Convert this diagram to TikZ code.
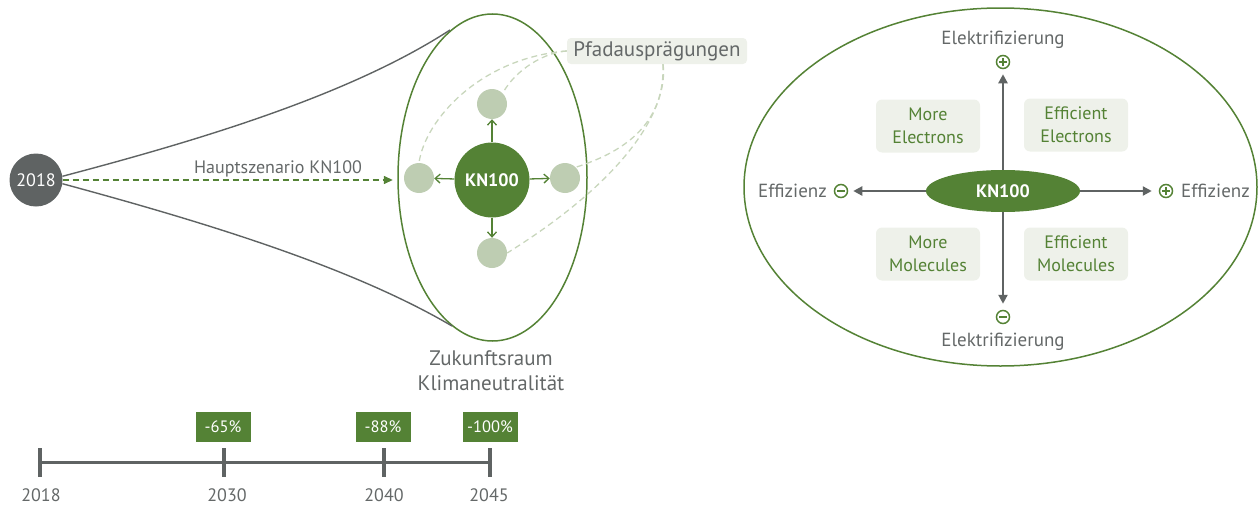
\documentclass[tikz,border=0pt]{standalone}
\usepackage{fontspec}
\setmainfont{PT Sans}
\usetikzlibrary{arrows.meta,shapes.geometric}
\definecolor{kgreen}{RGB}{84,130,53}
\definecolor{kgray}{RGB}{95,99,99}
\definecolor{tgray}{RGB}{100,104,104}
\definecolor{lgreen}{RGB}{190,205,178}
\definecolor{dgreen}{RGB}{200,214,188}
\definecolor{lbox}{RGB}{238,241,234}
\tikzset{
  fs/.style={font=\fontsize{18}{21}\selectfont},
  yearc/.style={circle,fill=kgray,text=white,minimum size=53pt,inner sep=0pt,fs},
  bigc/.style={circle,fill=kgreen,text=white,minimum size=75pt,inner sep=0pt,font=\fontsize{18}{20}\selectfont\bfseries},
  smallc/.style={circle,fill=lgreen,minimum size=30pt,inner sep=0pt},
  garrow/.style={draw=kgreen,line width=1.3pt,-{Straight Barb[length=5pt,width=9pt,line width=1.3pt]}},
  grarrow/.style={draw=kgray,line width=2.4pt,-{Triangle[length=9pt,width=9pt]}},
  pdash/.style={draw=dgreen,line width=1.3pt,dash pattern=on 6pt off 4pt},
  lab/.style={text=tgray,fs,inner sep=1pt},
  labb/.style={text=tgray,font=\fontsize{19}{22}\selectfont,inner sep=1pt},
  quad/.style={fill=lbox,rounded corners=6pt,minimum width=104pt,minimum height=53pt,text=kgreen,align=center,font=\fontsize{18}{23}\selectfont},
  pct/.style={fill=kgreen,text=white,minimum width=55pt,minimum height=30pt,inner sep=0pt,font=\fontsize{16.5}{18}\selectfont},
  pm/.style={circle,draw=kgreen,line width=1.5pt,minimum size=13pt,inner sep=0pt},
  pmline/.style={draw=kgreen,line width=1.5pt},
  tline/.style={draw=kgray,line width=3.5pt}
}
\begin{document}
\begin{tikzpicture}[x=1pt,y=-1pt]
\useasboundingbox (0,0) rectangle (1259,506);
% ---------- left part
\node[draw=kgreen,line width=1.5pt,ellipse,minimum width=189pt,minimum height=327pt,inner sep=0pt] (zr) at (492.5,177.5) {};
\node[yearc] (c2018) at (36,180) {2018};
\coordinate (etop) at (450,30);
\coordinate (ebot) at (452,326);
\draw[kgray,line width=1.4pt] (c2018.8) .. controls (200,140) and (350,95) .. (etop);
\draw[kgray,line width=1.4pt] (c2018.-8) .. controls (200,221) and (350,266) .. (ebot);

\node[bigc] (kn) at (492,180) {KN100};
\node[smallc] (st) at (492,104) {};
\node[smallc] (sl) at (419,178) {};
\node[smallc] (sr) at (565,178) {};
\node[smallc] (sb) at (492,253) {};
\draw[garrow] (kn) -- (st);
\draw[garrow] (kn) -- (sl);
\draw[garrow] (kn) -- (sr);
\draw[garrow] (kn) -- (sb);

\draw[draw=kgreen,line width=1.4pt,dash pattern=on 6pt off 4pt,-{Triangle[length=9pt,width=8pt]},shorten >=11pt] (c2018.east) -- (sl.west |- c2018.east);
\node[lab] (haupt) at (278,169) {Hauptszenario KN100};

\node[fill=lbox,rounded corners=4pt,minimum width=180pt,minimum height=26pt,inner sep=0pt,text=tgray,font=\fontsize{21}{23}\selectfont] (pfad) at (657,51) {Pfadausprägungen};
\draw[pdash] (pfad.west) .. controls (480,58) and (425,120) .. (sl.north);
\draw[pdash] (pfad.west) .. controls (545,52) and (515,70) .. (st.north east);
\draw[pdash] ([xshift=6pt]pfad.south) .. controls (665,120) and (630,150) .. (sr.north east);
\draw[pdash] ([xshift=6pt]pfad.south) .. controls (668,100) and (640,170) .. (sb.east);

\node[text=tgray,align=center,font=\fontsize{21}{25}\selectfont] (zuk) at (491,371) {Zukunftsraum\\Klimaneutralität};

% ---------- timeline
\coordinate (t18) at (40,462);
\coordinate (t30) at (224,462);
\coordinate (t40) at (384,462);
\coordinate (t45) at (490,462);
\draw[draw=kgray,line width=3pt] (t18) -- (t45);
\foreach \t in {t18,t30,t40,t45} \draw[tline] ([yshift=14pt]\t) -- ([yshift=-15pt]\t);
\node[lab] (y18) at (41,495) {2018};
\node[lab] (y30) at (227,495) {2030};
\node[lab] (y40) at (384,495) {2040};
\node[lab] (y45) at (489,495) {2045};
\node[pct] (p65) at (223,427) {-65\%};
\node[pct] (p88) at (383,427) {-88\%};
\node[pct] (p100) at (490,427) {-100\%};

% ---------- right part
\node[draw=kgreen,line width=1.5pt,ellipse,minimum width=513pt,minimum height=358pt,inner sep=0pt] (big) at (1000.5,187) {};
\node[ellipse,fill=kgreen,text=white,minimum width=154pt,minimum height=42pt,inner sep=0pt,font=\fontsize{18}{20}\selectfont\bfseries] (kn2) at (1003,191) {KN100};

\node[pm] (ptop) at (1003,62) {};
\node[pm] (mbot) at (1003,317) {};
\node[pm] (mleft) at (841,191) {};
\node[pm] (pright) at (1166,191) {};
\draw[pmline] ([xshift=-4pt]ptop.center) -- ([xshift=4pt]ptop.center);
\draw[pmline] ([yshift=-4pt]ptop.center) -- ([yshift=4pt]ptop.center);
\draw[pmline] ([xshift=-4pt]pright.center) -- ([xshift=4pt]pright.center);
\draw[pmline] ([yshift=-4pt]pright.center) -- ([yshift=4pt]pright.center);
\draw[pmline] ([xshift=-4pt]mbot.center) -- ([xshift=4pt]mbot.center);
\draw[pmline] ([xshift=-4pt]mleft.center) -- ([xshift=4pt]mleft.center);

\draw[grarrow,shorten >=5pt] (kn2.north) -- (ptop.south);
\draw[grarrow,shorten >=6pt] (kn2.south) -- (mbot.north);
\draw[grarrow,shorten >=5pt] (kn2.west) -- (mleft.east);
\draw[grarrow,shorten >=7pt] (kn2.east) -- (pright.west);

\node[labb] (el1) at (1003,40) {Elektrifizierung};
\node[labb] (el2) at (1003,342) {Elektrifizierung};
\node[labb,anchor=east] (ef1) at (828,191) {Effizienz};
\node[labb,anchor=west] (ef2) at (1180,191) {Effizienz};

\node[quad] (q1) at (928,126) {More\\Electrons};
\node[quad] (q2) at (1076,125) {Efficient\\Electrons};
\node[quad] (q3) at (928,254) {More\\Molecules};
\node[quad] (q4) at (1076,254) {Efficient\\Molecules};
\end{tikzpicture}
\end{document}
